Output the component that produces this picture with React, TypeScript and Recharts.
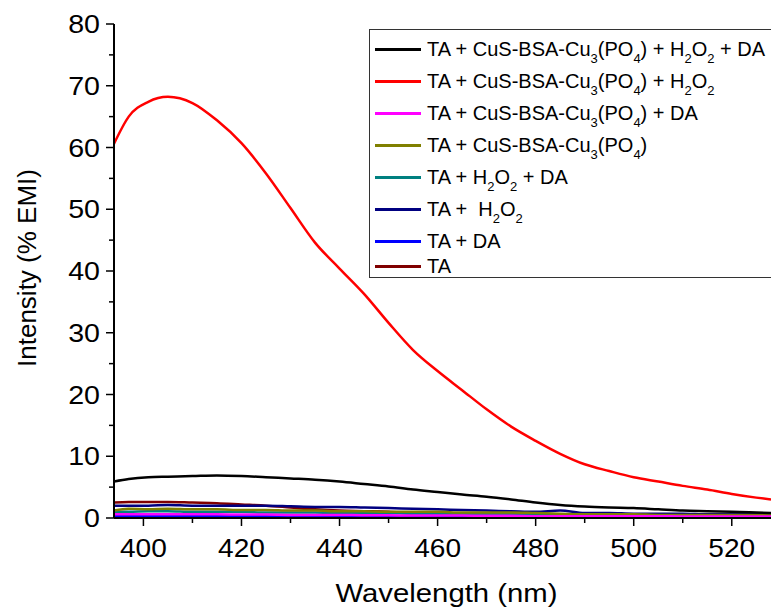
import { Legend, Line, LineChart, XAxis, YAxis } from 'recharts';

const FONT = '"Liberation Sans", Arial, Helvetica, sans-serif';

// wavelength (nm) sample points
const wavelengths = [394, 397, 401, 405, 410, 415, 420, 425, 430, 435, 440, 445, 450, 455, 460, 465, 470, 475, 480, 485, 490, 495, 500, 505, 510, 515, 520, 525, 528];

const cusH2o2Da = [5.9, 6.3, 6.6, 6.7, 6.8, 6.9, 6.8, 6.6, 6.4, 6.2, 5.9, 5.5, 5.1, 4.6, 4.2, 3.8, 3.45, 3.0, 2.5, 2.1, 1.85, 1.7, 1.6, 1.4, 1.2, 1.1, 1.0, 0.9, 0.8];
const cusH2o2 = [60.6, 65.0, 67.4, 68.2, 67.2, 64.4, 60.7, 55.8, 50.2, 44.6, 40.4, 36.3, 31.6, 27.2, 23.8, 20.7, 17.6, 14.8, 12.5, 10.4, 8.7, 7.6, 6.6, 5.9, 5.2, 4.6, 3.9, 3.3, 3.0];
const cusDa = [0.6, 0.6, 0.6, 0.6, 0.6, 0.6, 0.55, 0.55, 0.5, 0.5, 0.5, 0.45, 0.45, 0.4, 0.4, 0.4, 0.35, 0.35, 0.3, 0.3, 0.3, 0.3, 0.3, 0.3, 0.25, 0.25, 0.25, 0.25, 0.25];
const cusOnly = [1.2, 1.5, 1.4, 1.5, 1.4, 1.4, 1.3, 1.3, 1.2, 1.2, 1.1, 1.1, 1.0, 1.0, 1.0, 0.9, 0.9, 0.9, 0.8, 0.7, 0.6, 0.6, 0.6, 0.5, 0.5, 0.5, 0.5, 0.5, 0.5];
const h2o2Da = [1.0, 1.0, 1.1, 1.1, 1.0, 1.0, 1.0, 0.9, 0.9, 0.9, 0.8, 0.8, 0.8, 0.7, 0.7, 0.7, 0.6, 0.6, 0.6, 0.5, 0.5, 0.5, 0.5, 0.4, 0.4, 0.4, 0.4, 0.4, 0.4];
const h2o2Only = [2.0, 2.0, 2.0, 2.1, 2.0, 2.0, 2.0, 2.0, 1.9, 1.8, 1.8, 1.7, 1.6, 1.5, 1.4, 1.3, 1.2, 1.1, 1.0, 1.2, 0.8, 0.8, 0.7, 0.7, 0.7, 0.6, 0.6, 0.6, 0.6];
const daOnly = [0.3, 0.3, 0.3, 0.3, 0.3, 0.3, 0.3, 0.3, 0.25, 0.25, 0.25, 0.2, 0.2, 0.2, 0.2, 0.2, 0.2, 0.15, 0.15, 0.15, 0.15, 0.15, 0.1, 0.1, 0.1, 0.1, 0.1, 0.1, 0.1];
const taOnly = [2.5, 2.6, 2.6, 2.6, 2.5, 2.4, 2.2, 2.0, 1.7, 1.4, 1.2, 1.1, 1.0, 0.7, 0.6, 0.5, 0.5, 0.4, 0.3, 0.3, 0.3, 0.3, 0.2, 0.2, 0.2, 0.2, 0.2, 0.2, 0.2];

const xTicks = [400, 410, 420, 430, 440, 450, 460, 470, 480, 490, 500, 510, 520];
const yTicks = [0, 5, 10, 15, 20, 25, 30, 35, 40, 45, 50, 55, 60, 65, 70, 75, 80];

// "_n" marks a subscript digit in the labels
const series = [
  { key: 'cusH2o2Da', label: 'TA + CuS-BSA-Cu_3(PO_4) + H_2O_2 + DA', color: '#000000', values: cusH2o2Da },
  { key: 'cusH2o2', label: 'TA + CuS-BSA-Cu_3(PO_4) + H_2O_2', color: '#ff0000', values: cusH2o2 },
  { key: 'cusDa', label: 'TA + CuS-BSA-Cu_3(PO_4) + DA', color: '#ff00ff', values: cusDa },
  { key: 'cusOnly', label: 'TA + CuS-BSA-Cu_3(PO_4)', color: '#808000', values: cusOnly },
  { key: 'h2o2Da', label: 'TA + H_2O_2 + DA', color: '#008080', values: h2o2Da },
  { key: 'h2o2Only', label: 'TA +  H_2O_2', color: '#000080', values: h2o2Only },
  { key: 'daOnly', label: 'TA + DA', color: '#0000ff', values: daOnly },
  { key: 'taOnly', label: 'TA', color: '#800000', values: taOnly },
];

const data = wavelengths.map((wl, i) => {
  const row: Record<string, number> = { wl };
  series.forEach((s) => {
    row[s.key] = s.values[i];
  });
  return row;
});

function renderLabel(label: string) {
  const parts = label.split(/_(\d)/);
  return parts.map((p, i) =>
    i % 2 === 1 ? (
      <span key={i} style={{ fontSize: 13, position: 'relative', top: 7 }}>
        {p}
      </span>
    ) : (
      <span key={i}>{p}</span>
    ),
  );
}

// the source figure is a little wider than tall, so axis text is stretched sideways
function YTick(props: any) {
  const { x, y, payload } = props;
  const major = payload.value % 10 === 0;
  return (
    <g>
      <line x1={x - (major ? 8 : 5)} x2={x} y1={y} y2={y} stroke="#000" strokeWidth={1.5} />
      {major && (
        <text
          transform={`translate(${x - 14},${y + 9}) scale(1.1,1)`}
          textAnchor="end"
          fontSize={26}
          fill="#000"
          fontFamily={FONT}
        >
          {payload.value}
        </text>
      )}
    </g>
  );
}

function XTick(props: any) {
  const { x, y, payload } = props;
  const major = payload.value % 20 === 0;
  return (
    <g>
      <line x1={x} x2={x} y1={y} y2={y + (major ? 8 : 5)} stroke="#000" strokeWidth={1.5} />
      {major && (
        <text
          transform={`translate(${x},${y + 39}) scale(1.08,1)`}
          textAnchor="middle"
          fontSize={26}
          fill="#000"
          fontFamily={FONT}
        >
          {payload.value}
        </text>
      )}
    </g>
  );
}

function TopTick(props: any) {
  const { x, y, payload } = props;
  const major = payload.value % 20 === 0;
  return <line x1={x} x2={x} y1={y} y2={y + (major ? 7 : 4)} stroke="#000" strokeWidth={1.5} />;
}

function XTitle(props: any) {
  const vb = props.viewBox;
  return (
    <text
      x={vb.x + vb.width / 2 + 4}
      y={vb.y + vb.height - 7}
      textAnchor="middle"
      fontSize={26}
      fill="#000"
      fontFamily={FONT}
      textLength={222}
      lengthAdjust="spacingAndGlyphs"
    >
      Wavelength (nm)
    </text>
  );
}

function YTitle(props: any) {
  const vb = props.viewBox;
  const cx = 36;
  const cy = vb.y + vb.height / 2 - 3;
  return (
    <text
      x={cx}
      y={cy}
      transform={`rotate(-90,${cx},${cy})`}
      textAnchor="middle"
      fontSize={26}
      fill="#000"
      fontFamily={FONT}
    >
      Intensity (% EMI)
    </text>
  );
}

function LegendBox() {
  return (
    <div
      style={{
        border: '1.5px solid #333',
        background: '#fff',
        width: 420,
        height: 249,
        boxSizing: 'border-box',
        padding: '7px 0 0 5px',
        fontSize: 20,
        color: '#000',
        fontFamily: FONT,
      }}
    >
      {series.map((s) => {
        const hasSub = s.label.includes('_');
        return (
          <div key={s.key} style={{ display: 'flex', alignItems: 'flex-start', height: hasSub ? 32 : 25, whiteSpace: 'pre' }}>
            <div style={{ width: 46, height: 25, display: 'flex', alignItems: 'center' }}>
              <div style={{ width: 46, height: 3, background: s.color }} />
            </div>
            <div style={{ marginLeft: 6, lineHeight: '25px' }}>{renderLabel(s.label)}</div>
          </div>
        );
      })}
    </div>
  );
}

export default function App() {
  const drawOrder = [...series].reverse();
  return (
    <div
      style={{
        position: 'absolute',
        left: 0,
        top: 0,
        width: 771,
        height: 609,
        overflow: 'hidden',
        background: '#fff',
        fontFamily: FONT,
      }}
    >
      <LineChart width={771} height={609} data={data} margin={{ top: 24, right: 0, bottom: 0, left: 0 }}>
        <XAxis
          dataKey="wl"
          type="number"
          domain={[394, 528]}
          allowDataOverflow
          ticks={xTicks}
          interval={0}
          height={91}
          tickSize={0}
          tickMargin={0}
          tickLine={false}
          tick={<XTick />}
          axisLine={{ stroke: '#000', strokeWidth: 2 }}
          label={(p: any) => <XTitle {...p} />}
        />
        <XAxis
          xAxisId="top"
          dataKey="wl"
          type="number"
          orientation="top"
          mirror
          height={0}
          domain={[394, 528]}
          allowDataOverflow
          ticks={xTicks}
          interval={0}
          tickSize={0}
          tickMargin={0}
          tickLine={false}
          tick={<TopTick />}
          axisLine={{ stroke: '#000', strokeWidth: 2 }}
        />
        <YAxis
          type="number"
          domain={[0, 80]}
          ticks={yTicks}
          interval={0}
          width={114}
          tickSize={0}
          tickMargin={0}
          tickLine={false}
          tick={<YTick />}
          axisLine={{ stroke: '#000', strokeWidth: 2 }}
          label={(p: any) => <YTitle {...p} />}
        />
        <Legend
          layout="vertical"
          verticalAlign="middle"
          align="center"
          content={() => <LegendBox />}
          wrapperStyle={{ left: 369, top: 29, width: 420 }}
        />
        {drawOrder.map((s) => (
          <Line
            key={s.key}
            type="monotone"
            dataKey={s.key}
            name={s.key}
            stroke={s.color}
            strokeWidth={2.5}
            dot={false}
            activeDot={false}
            isAnimationActive={false}
          />
        ))}
      </LineChart>
    </div>
  );
}
